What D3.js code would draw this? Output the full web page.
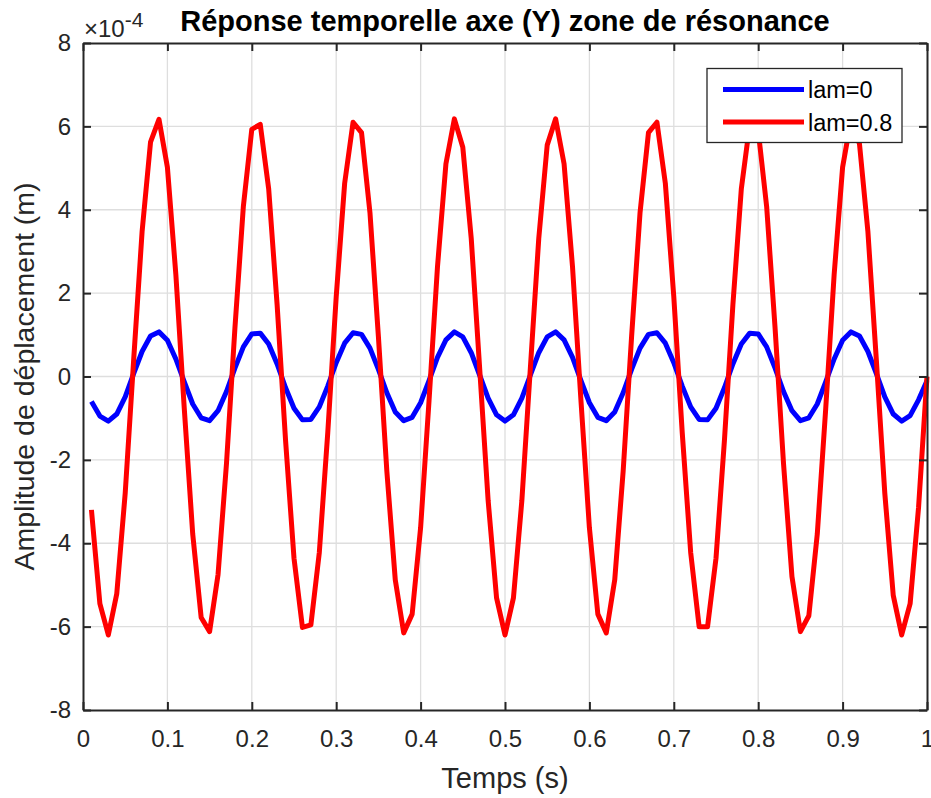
<!DOCTYPE html>
<html><head><meta charset="utf-8">
<script src="https://cdn.jsdelivr.net/npm/d3@7/dist/d3.min.js"></script>
<style>
body{margin:0;background:#fff}
text{font-family:"Liberation Sans",Arial,Helvetica,sans-serif}
</style>
</head><body>
<svg id="chart" width="931" height="798"></svg>
<script>
// ---- data (values in units of 1e-4 m) ----
const time = [0.01,0.02,0.03,0.04,0.05,0.06,0.07,0.08,0.09,0.10,
0.11,0.12,0.13,0.14,0.15,0.16,0.17,0.18,0.19,0.20,
0.21,0.22,0.23,0.24,0.25,0.26,0.27,0.28,0.29,0.30,
0.31,0.32,0.33,0.34,0.35,0.36,0.37,0.38,0.39,0.40,
0.41,0.42,0.43,0.44,0.45,0.46,0.47,0.48,0.49,0.50,
0.51,0.52,0.53,0.54,0.55,0.56,0.57,0.58,0.59,0.60,
0.61,0.62,0.63,0.64,0.65,0.66,0.67,0.68,0.69,0.70,
0.71,0.72,0.73,0.74,0.75,0.76,0.77,0.78,0.79,0.80,
0.81,0.82,0.83,0.84,0.85,0.86,0.87,0.88,0.89,0.90,
0.91,0.92,0.93,0.94,0.95,0.96,0.97,0.98,0.99,1.00];

const lam0 = [-0.60,-0.95,-1.07,-0.90,-0.49,0.07,0.60,0.97,1.07,0.87,
0.42,-0.13,-0.66,-0.99,-1.06,-0.82,-0.36,0.20,0.71,1.02,
1.04,0.78,0.30,-0.27,-0.76,-1.04,-1.03,-0.73,-0.23,0.33,
0.80,1.05,1.01,0.68,0.17,-0.39,-0.85,-1.06,-0.98,-0.63,
-0.10,0.46,0.88,1.07,0.95,0.57,0.03,-0.52,-0.92,-1.07,
-0.92,-0.52,0.03,0.57,0.95,1.07,0.88,0.46,-0.10,-0.63,
-0.98,-1.06,-0.85,-0.39,0.17,0.68,1.01,1.05,0.80,0.33,
-0.23,-0.73,-1.03,-1.04,-0.76,-0.27,0.30,0.78,1.04,1.02,
0.71,0.20,-0.36,-0.82,-1.06,-0.99,-0.66,-0.13,0.42,0.87,
1.07,0.97,0.60,0.07,-0.49,-0.90,-1.07,-0.94,-0.56,-0.10];

const lam08 = [-3.20,-5.45,-6.20,-5.21,-2.80,0.39,3.47,5.62,6.17,5.02,
2.45,-0.77,-3.78,-5.78,-6.12,-4.75,-2.09,1.16,4.08,5.93,
6.05,4.50,1.72,-1.53,-4.36,-6.02,-5.96,-4.22,-1.35,1.91,
4.63,6.10,5.85,3.93,0.96,-2.27,-4.88,-6.15,-5.70,-3.63,
-0.58,2.63,5.10,6.18,5.50,3.31,0.19,-2.97,-5.31,-6.20,
-5.31,-2.97,0.19,3.31,5.55,6.18,5.10,2.63,-0.58,-3.63,
-5.70,-6.15,-4.88,-2.27,0.96,3.93,5.85,6.10,4.63,1.91,
-1.35,-4.22,-6.00,-6.00,-4.36,-1.53,1.72,4.50,6.05,5.90,
4.08,1.16,-2.09,-4.80,-6.12,-5.74,-3.78,-0.77,2.45,5.02,
6.17,5.58,3.47,0.39,-2.80,-5.25,-6.20,-5.45,-3.14,0.00];

const seriesNames = ["lam=0","lam=0.8"];
const seriesColors = ["#0000ff","#ff0000"];
const xTicks = [0,0.1,0.2,0.3,0.4,0.5,0.6,0.7,0.8,0.9,1];
const yTicks = [-8,-6,-4,-2,0,2,4,6,8];
const xTickLabels = ["0","0.1","0.2","0.3","0.4","0.5","0.6","0.7","0.8","0.9","1"];
const yTickLabels = ["-8","-6","-4","-2","0","2","4","6","8"];
const titleText = "Réponse temporelle axe (Y) zone de résonance";
const xLabel = "Temps (s)";
const yLabel = "Amplitude de déplacement (m)";

// ---- layout ----
const svg = d3.select("#chart");
const L = 83, R = 927, T = 43, B = 710;
const axisColor = "#262626";
const x = d3.scaleLinear().domain([0,1]).range([L,R]);
const y = d3.scaleLinear().domain([-8,8]).range([B,T]);

// grid
const g = svg.append("g");
g.selectAll(".gx").data(xTicks.slice(1,-1)).enter().append("line")
  .attr("x1",d=>x(d)).attr("x2",d=>x(d)).attr("y1",T).attr("y2",B)
  .attr("stroke","#dedede").attr("stroke-width",1.3);
g.selectAll(".gy").data(yTicks.slice(1,-1)).enter().append("line")
  .attr("x1",L).attr("x2",R).attr("y1",d=>y(d)).attr("y2",d=>y(d))
  .attr("stroke","#dedede").attr("stroke-width",1.3);

// lines
const series = [lam0, lam08];
const line = d3.line().x((d,i)=>x(time[i])).y(d=>y(d));
series.forEach((s,k)=>{
  svg.append("path").datum(s).attr("d",line)
    .attr("fill","none").attr("stroke",seriesColors[k])
    .attr("stroke-width",5).attr("stroke-linejoin","round");
});

// axes
const tickLen = 8;
const xAxB = d3.axisBottom(x).tickValues(xTicks).tickSizeInner(-tickLen).tickSizeOuter(0).tickPadding(tickLen+12).tickFormat((d,i)=>xTickLabels[i]);
const xAxT = d3.axisTop(x).tickValues(xTicks).tickSizeInner(-tickLen).tickSizeOuter(0).tickFormat("");
const yAxL = d3.axisLeft(y).tickValues(yTicks).tickSizeInner(-tickLen).tickSizeOuter(0).tickPadding(tickLen+4).tickFormat((d,i)=>yTickLabels[i]);
const yAxR = d3.axisRight(y).tickValues(yTicks).tickSizeInner(-tickLen).tickSizeOuter(0).tickFormat("");

function style(sel){
  sel.select(".domain").attr("stroke",axisColor).attr("stroke-width",2);
  sel.selectAll(".tick line").attr("stroke",axisColor).attr("stroke-width",2);
  sel.selectAll(".tick text").attr("fill",axisColor).style("font-size","24px")
     .style("font-family",'"Liberation Sans",Arial,sans-serif');
}
svg.append("g").attr("transform",`translate(0,${B})`).call(xAxB).call(style);
svg.append("g").attr("transform",`translate(0,${T})`).call(xAxT).call(style);
svg.append("g").attr("transform",`translate(${L},0)`).call(yAxL).call(style);
svg.append("g").attr("transform",`translate(${R},0)`).call(yAxR).call(style);

// exponent
const ex = svg.append("text").attr("x",L+1).attr("y",37).attr("fill",axisColor).style("font-size","24px");
ex.append("tspan").text("×10");
ex.append("tspan").attr("dy",-10).style("font-size","21px").text("-4");

// title & labels
svg.append("text").attr("x",(L+R)/2).attr("y",31).attr("text-anchor","middle")
  .attr("fill","#000").style("font-size","29px").style("font-weight","bold").text(titleText);
svg.append("text").attr("x",(L+R)/2).attr("y",788).attr("text-anchor","middle")
  .attr("fill",axisColor).style("font-size","29px").text(xLabel);
svg.append("text").attr("transform",`translate(34,${(T+B)/2}) rotate(-90)`).attr("text-anchor","middle")
  .attr("fill",axisColor).style("font-size","28.5px").text(yLabel);

// legend
const lg = svg.append("g");
lg.append("rect").attr("x",707).attr("y",68.5).attr("width",195).attr("height",74)
  .attr("fill","#fff").attr("stroke",axisColor).attr("stroke-width",1.3);
seriesNames.forEach((n,i)=>{
  const yy = 89.5 + i*32.5;
  lg.append("line").attr("x1",723).attr("x2",804).attr("y1",yy).attr("y2",yy)
    .attr("stroke",seriesColors[i]).attr("stroke-width",5);
  lg.append("text").attr("x",808).attr("y",yy+8.5).attr("fill","#000")
    .style("font-size","23.5px").text(n);
});
</script>
</body></html>
